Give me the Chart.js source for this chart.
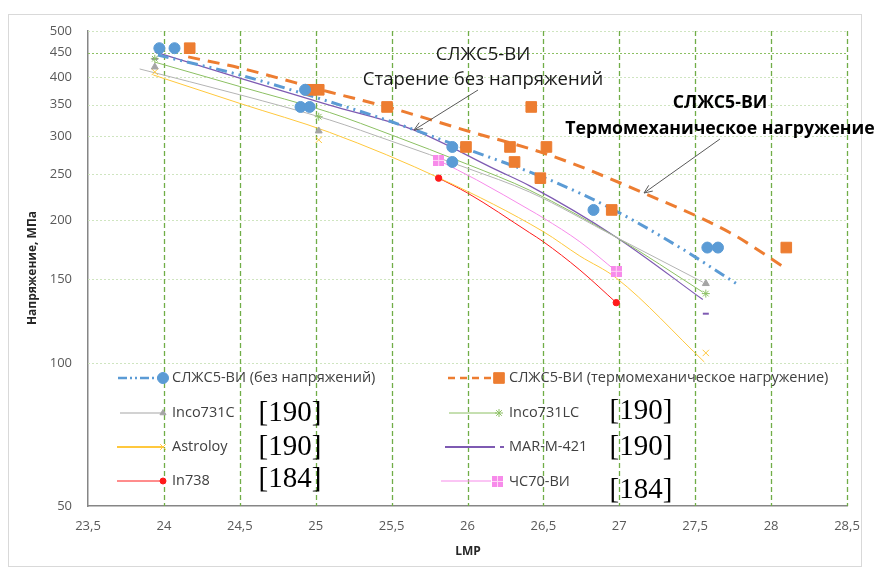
<!doctype html>
<html lang="ru">
<head>
<meta charset="utf-8">
<title>LMP</title>
<style>
  * { margin: 0; padding: 0; }
  body { background: #fff; }
</style>
</head>
<body>
<canvas id="myChart" width="877" height="568"></canvas>
<script src="https://cdn.jsdelivr.net/npm/chart.js/dist/chart.umd.min.js"></script>
<script>
// axis ticks
const xTicks = [23.5, 24, 24.5, 25, 25.5, 26, 26.5, 27, 27.5, 28, 28.5];
const yTicks = [50, 100, 150, 200, 250, 300, 350, 400, 450, 500];

// СЛЖС5-ВИ measured points
const freeX = [23.97, 24.07, 24.93, 24.90, 24.96, 25.90, 25.90, 26.83, 27.58, 27.65];
const freeY = [460, 460, 376, 346, 346, 285, 265, 210, 175, 175];
const tmX = [24.17, 24.97, 25.02, 25.47, 26.42, 25.99, 26.28, 26.52, 26.31, 26.48, 26.95, 28.10];
const tmY = [460, 376, 376, 346, 346, 285, 285, 285, 265, 245, 210, 175];

// trend lines
const freeTrendX = [23.96, 24.5, 25.09, 25.5, 25.97, 26.54, 26.94, 27.40, 27.77];
const freeTrendY = [445, 404, 355, 322, 284, 243, 212, 175, 147];
const tmTrendX = [24.16, 24.5, 25.09, 25.5, 25.97, 26.54, 27.16, 27.73, 28.10];
const tmTrendY = [441, 418, 372, 344, 310, 274, 228, 188, 158];

// reference alloys
const inco731cX = [23.94, 25.02, 27.57];
const inco731cY = [420, 308, 147];
const inco731cTrendX = [23.84, 24.5, 25.09, 25.5, 26.0, 26.41, 26.98, 27.55];
const inco731cTrendY = [416, 367, 325, 293, 257, 229, 184, 148];

const inco731lcX = [23.94, 25.02, 27.57];
const inco731lcY = [437, 330, 140];
const inco731lcTrendX = [23.94, 24.5, 25.09, 25.5, 26.0, 26.41, 26.98, 27.55];
const inco731lcTrendY = [430, 382, 337, 302, 262, 231, 184, 141];

const astroloyX = [23.94, 25.02, 27.57];
const astroloyY = [410, 295, 105];
const astroloyTrendX = [23.93, 24.5, 25.09, 25.84, 26.5, 26.74, 26.98, 27.56];
const astroloyTrendY = [404, 352, 306, 243, 189, 168, 151, 100.5];

const marX = [23.94, 27.57];
const marY = [437, 127];
const marTrendX = [23.94, 24.5, 25.09, 25.64, 26.19, 26.41, 26.98, 27.55];
const marTrendY = [452, 398, 349, 310, 255, 236, 184, 136];

const in738X = [25.81, 26.98];
const in738Y = [245, 134];
const in738TrendX = [25.81, 26.0, 26.41, 26.5, 26.74, 26.98];
const in738TrendY = [245, 228, 188, 180, 157, 134];

const chs70X = [25.81, 26.98];
const chs70Y = [267, 156];
const chs70TrendX = [25.81, 26.06, 26.41, 26.5, 26.74, 26.98];
const chs70TrendY = [267, 243, 210, 202, 180, 156];

const BLUE = '#5B9BD5', ORANGE = '#ED7D31', GRAY = '#A5A5A5', GREEN = '#8CC063',
      YELLOW = '#FFC83D', PURPLE = '#7E5AB2', RED = '#FF1A1A', PINK = '#F78BEA';

const pts = (xs, ys) => xs.map((x, i) => ({ x: x, y: ys[i] }));

// pink square marker with white cross
function pinkMarker() {
  const c = document.createElement('canvas');
  c.width = 11; c.height = 11;
  const g = c.getContext('2d');
  g.fillStyle = PINK;
  g.fillRect(0, 0, 11, 11);
  g.fillStyle = '#FFD6F7';
  g.fillRect(5, 0, 1, 11);
  g.fillRect(0, 5, 11, 1);
  return c;
}
const pinkPt = pinkMarker();

function trend(xs, ys, color, width, dash) {
  return {
    data: pts(xs, ys), showLine: true, pointRadius: 0, borderColor: color,
    borderWidth: width, borderDash: dash || [], cubicInterpolationMode: 'monotone', order: 2
  };
}
function marks(xs, ys, style, r, color, bw) {
  return {
    data: pts(xs, ys), showLine: false, pointStyle: style, pointRadius: r,
    backgroundColor: color, borderColor: color, borderWidth: bw || 1, order: 0
  };
}

const data = {
  datasets: [
    marks(freeX, freeY, 'circle', 5.5, BLUE),
    marks(tmX, tmY, 'rect', 7.5, ORANGE),
    marks(inco731cX, inco731cY, 'triangle', 4, GRAY),
    marks(inco731lcX, inco731lcY, 'star', 4, GREEN),
    marks(astroloyX, astroloyY, 'crossRot', 4.5, YELLOW),
    marks(marX, marY, 'line', 3, PURPLE, 2),
    marks(in738X, in738Y, 'circle', 3.2, RED),
    marks(chs70X, chs70Y, pinkPt, 5.5, PINK),
    Object.assign(trend(freeTrendX, freeTrendY, BLUE, 3, [11, 5, 2, 5, 2, 5]), { order: 1 }),
    Object.assign(trend(tmTrendX, tmTrendY, ORANGE, 3, [12, 8]), { order: 1 }),
    trend(inco731cTrendX, inco731cTrendY, '#B4B4B4', 1),
    trend(inco731lcTrendX, inco731lcTrendY, GREEN, 1),
    trend(astroloyTrendX, astroloyTrendY, YELLOW, 1),
    trend(marTrendX, marTrendY, PURPLE, 1.2),
    trend(in738TrendX, in738TrendY, RED, 1),
    trend(chs70TrendX, chs70TrendY, PINK, 1)
  ]
};

// grid lines drawn from the scales
const gridLines = {
  id: 'gridLines',
  beforeDatasetsDraw(chart) {
    const { ctx, chartArea: a, scales } = chart;
    ctx.save();
    yTicks.forEach(v => {
      if (v === 50) return;
      const y = Math.round(scales.y.getPixelForValue(v)) + 0.5;
      ctx.strokeStyle = v === 450 ? '#8CC063' : '#CFE5C0';
      ctx.lineWidth = 1;
      ctx.setLineDash([2, 2]);
      ctx.beginPath();
      ctx.moveTo(a.left, y);
      ctx.lineTo(a.right, y);
      ctx.stroke();
    });
    xTicks.forEach(v => {
      if (v === 23.5) return;
      const x = Math.round(scales.x.getPixelForValue(v)) + 0.5;
      ctx.strokeStyle = '#70AD47';
      ctx.lineWidth = 1.3;
      ctx.setLineDash([5, 3]);
      ctx.beginPath();
      ctx.moveTo(x, a.top);
      ctx.lineTo(x, a.bottom);
      ctx.stroke();
    });
    ctx.restore();
  }
};

// legend, captions, arrows, frame
function arrow(ctx, x1, y1, x2, y2) {
  ctx.save();
  ctx.strokeStyle = '#595959';
  ctx.lineWidth = 1;
  ctx.beginPath();
  ctx.moveTo(x1, y1);
  ctx.lineTo(x2, y2);
  const a = Math.atan2(y2 - y1, x2 - x1);
  ctx.moveTo(x2 - 9 * Math.cos(a - 0.4), y2 - 9 * Math.sin(a - 0.4));
  ctx.lineTo(x2, y2);
  ctx.lineTo(x2 - 9 * Math.cos(a + 0.4), y2 - 9 * Math.sin(a + 0.4));
  ctx.stroke();
  ctx.restore();
}

function legendLine(ctx, x1, x2, y, color, width, dash) {
  ctx.save();
  ctx.strokeStyle = color;
  ctx.lineWidth = width;
  ctx.setLineDash(dash || []);
  ctx.beginPath();
  ctx.moveTo(x1, y);
  ctx.lineTo(x2, y);
  ctx.stroke();
  ctx.restore();
}

const extras = {
  id: 'extras',
  afterDraw(chart) {
    const { ctx } = chart;
    const H = Chart.helpers;
    ctx.save();

    // outer frame
    ctx.strokeStyle = '#D9D9D9';
    ctx.lineWidth = 1;
    ctx.strokeRect(8.5, 14.5, 853, 552);

    // axis titles
    ctx.fillStyle = '#262626';
    ctx.font = 'bold 12px "Open Sans"';
    ctx.textAlign = 'center';
    ctx.textBaseline = 'middle';
    ctx.fillText('LMP', 468, 552);
    ctx.save();
    ctx.translate(33, 268);
    ctx.rotate(-Math.PI / 2);
    ctx.fillText('Напряжение, МПа', 0, 0);
    ctx.restore();

    // captions
    ctx.fillStyle = '#1a1a1a';
    ctx.font = '18.5px "Open Sans"';
    ctx.fillText('СЛЖС5-ВИ', 483, 55);
    ctx.fillText('Старение без напряжений', 483, 80);
    ctx.font = 'bold 17.7px "Open Sans"';
    ctx.fillStyle = '#000';
    ctx.fillText('СЛЖС5-ВИ', 720, 103);
    ctx.fillText('Термомеханическое нагружение', 720, 129);
    arrow(ctx, 478, 90, 414, 130);
    arrow(ctx, 720, 139, 644, 193);

    // legend
    const rows = [378, 413, 447, 481];
    legendLine(ctx, 118, 160, rows[0], BLUE, 2.5, [9, 3, 2, 3, 2, 3]);
    legendLine(ctx, 120, 163, rows[1], GRAY, 1);
    legendLine(ctx, 117, 163, rows[2], YELLOW, 2);
    legendLine(ctx, 117, 163, rows[3], RED, 1);
    legendLine(ctx, 448, 494, rows[0], ORANGE, 2.5, [7, 5]);
    legendLine(ctx, 449, 497, rows[1], GREEN, 1);
    legendLine(ctx, 445, 495, rows[2], PURPLE, 2);
    legendLine(ctx, 441, 491, rows[3], PINK, 1);

    const legendPoint = (style, r, color, x, y, bw) => {
      ctx.fillStyle = color;
      ctx.strokeStyle = color;
      ctx.lineWidth = bw || 1;
      H.drawPoint(ctx, { pointStyle: style, radius: r, borderWidth: bw || 1 }, x, y);
    };
    legendPoint('circle', 5.5, BLUE, 163, rows[0]);
    legendPoint('triangle', 3.5, GRAY, 163, rows[1]);
    legendPoint('crossRot', 4, YELLOW, 163, rows[2]);
    legendPoint('circle', 3, RED, 163, rows[3]);
    legendPoint('rect', 7.5, ORANGE, 499, rows[0]);
    legendPoint('star', 4, GREEN, 499, rows[1]);
    legendPoint('line', 2, PURPLE, 502, rows[2], 2);
    ctx.drawImage(pinkPt, 492, rows[3] - 5);

    ctx.fillStyle = '#404040';
    ctx.font = '14.5px "Open Sans"';
    ctx.textAlign = 'left';
    ctx.fillText('СЛЖС5-ВИ (без напряжений)', 172, rows[0]);
    ctx.fillText('Inco731C', 172, rows[1]);
    ctx.fillText('Astroloy', 172, rows[2]);
    ctx.fillText('In738', 172, rows[3]);
    ctx.fillText('СЛЖС5-ВИ (термомеханическое нагружение)', 509, rows[0]);
    ctx.fillText('Inco731LC', 509, rows[1]);
    ctx.fillText('MAR-M-421', 509, rows[2]);
    ctx.fillText('ЧС70-ВИ', 509, rows[3] + 1);

    // source references
    ctx.fillStyle = '#000';
    ctx.font = '29px "Liberation Serif"';
    ctx.textAlign = 'center';
    ctx.fillText('[190]', 290, 413);
    ctx.fillText('[190]', 290, 447);
    ctx.fillText('[184]', 290, 479);
    ctx.fillText('[190]', 641, 411);
    ctx.fillText('[190]', 641, 447);
    ctx.fillText('[184]', 641, 490);

    ctx.restore();
  }
};

const config = {
  type: 'scatter',
  data,
  options: {
    responsive: false,
    animation: false,
    layout: { padding: { left: 0, top: 31, right: 30, bottom: 0 } },
    plugins: { legend: { display: false }, tooltip: { enabled: false } },
    scales: {
      x: {
        type: 'linear',
        min: 23.5,
        max: 28.5,
        afterFit: (s) => { s.height = 62; },
        afterBuildTicks: (s) => { s.ticks = xTicks.map(v => ({ value: v })); },
        ticks: {
          padding: 12,
          color: '#595959',
          font: { family: '"Open Sans"', size: 13 },
          callback: (v) => String(v).replace('.', ',')
        },
        grid: { display: false, drawTicks: false },
        border: { display: true, color: '#868686', width: 1.5 }
      },
      y: {
        type: 'logarithmic',
        min: 50,
        max: 500,
        afterFit: (s) => { s.width = 88; },
        afterBuildTicks: (s) => { s.ticks = yTicks.map(v => ({ value: v })); },
        ticks: {
          padding: 16,
          color: '#595959',
          font: { family: '"Open Sans"', size: 13 },
          callback: (v) => String(v)
        },
        grid: { display: false, drawTicks: false },
        border: { display: true, color: '#868686', width: 1.5 }
      }
    }
  },
  plugins: [gridLines, extras]
};

const myChart = new Chart(document.getElementById('myChart'), config);
</script>
</body>
</html>
